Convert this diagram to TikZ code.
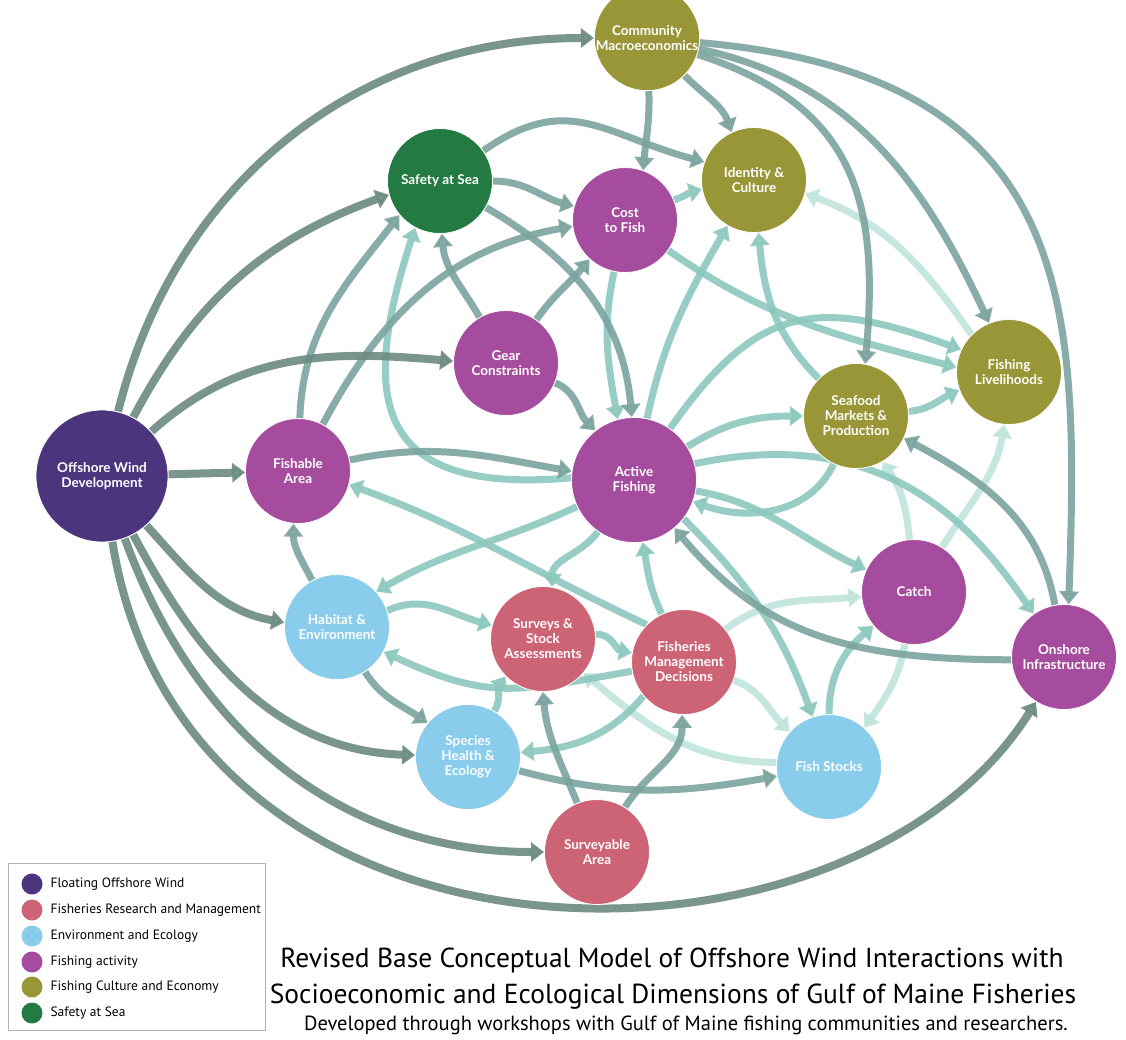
\documentclass[tikz,border=0pt]{standalone}
\usepackage{fontspec}
\setmainfont{PT Sans}
\newfontfamily\nodefont{Lato}
\usetikzlibrary{arrows.meta}
\definecolor{windpurple}{HTML}{4B357D}
\definecolor{researchpink}{HTML}{CD6475}
\definecolor{ecoblue}{HTML}{89CCEC}
\definecolor{fishmagenta}{HTML}{A64C9E}
\definecolor{cultureolive}{HTML}{999637}
\definecolor{safetygreen}{HTML}{237A43}
\definecolor{linkdark}{HTML}{6B8A82}
\definecolor{linkgrey}{HTML}{7BA39E}
\definecolor{linkteal}{HTML}{8CC8BE}
\definecolor{linklight}{HTML}{BFE4DC}
\pgfdeclarelayer{links}
\pgfsetlayers{links,main}

\begin{document}
\begin{tikzpicture}[x=1pt, y=1pt,
  topic/.style={circle, fill=#1, draw=white, line width=0.8pt, minimum size=105pt,
    inner sep=0pt, align=center, text=white,
    font=\nodefont\bfseries\fontsize{13.5}{15}\selectfont},
  link/.style={line width=7pt, opacity=0.9, -{Triangle[length=13pt,width=19pt]}},
  dk/.style={link, draw=linkdark, line width=8pt},
  gr/.style={link, draw=linkgrey},
  md/.style={link, draw=linkteal},
  lt/.style={link, draw=linklight},
  key/.style={circle, fill=#1, minimum size=21pt, inner sep=0pt},
  keytext/.style={anchor=west, font=\fontsize{13.5}{16}\selectfont}]
  \useasboundingbox (0,0) rectangle (1126,-1039);

  % topics
  \node[topic=cultureolive] (CM) at (647,-38) {Community\\Macroeconomics};
  \node[topic=cultureolive] (IC) at (754,-180) {Identity \&\\Culture};
  \node[topic=safetygreen] (SaS) at (440,-181) {Safety at Sea};
  \node[topic=fishmagenta] (CF) at (625,-220) {Cost\\to Fish};
  \node[topic=fishmagenta] (GC) at (506,-363) {Gear\\Constraints};
  \node[topic=cultureolive] (FL) at (1009,-372) {Fishing\\Livelihoods};
  \node[topic=cultureolive] (SM) at (856,-416) {Seafood\\Markets \&\\Production};
  \node[topic=windpurple, minimum size=132pt] (OWD) at (102,-476) {Offshore Wind\\Development};
  \node[topic=fishmagenta] (FA) at (298,-471) {Fishable\\Area};
  \node[topic=fishmagenta, minimum size=125pt] (AF) at (634,-480) {Active\\Fishing};
  \node[topic=fishmagenta] (CA) at (914,-592) {Catch};
  \node[topic=fishmagenta] (OI) at (1064,-657) {Onshore\\Infrastructure};
  \node[topic=ecoblue] (HE) at (337,-627) {Habitat \&\\Environment};
  \node[topic=researchpink] (SS) at (543,-639) {Surveys \&\\Stock\\Assessments};
  \node[topic=researchpink] (FMD) at (684,-662) {Fisheries\\Management\\Decisions};
  \node[topic=ecoblue] (SH) at (468,-757) {Species\\Health \&\\Ecology};
  \node[topic=ecoblue] (FS) at (829,-767) {Fish Stocks};
  \node[topic=researchpink] (SA) at (597,-852) {Surveyable\\Area};

  \begin{pgfonlayer}{links}
  % light links
  \draw[lt] (FL.135) to[out=125,in=-20] (IC.-15);
  \draw[lt] (CA) to[out=58,in=-100] (FL.-95);
  \draw[lt] (CA) to[out=95,in=-55] (SM.-60);
  \draw[lt] (CA) to[out=-100,in=55] (FS.48);
  \draw[lt] (FMD) to[out=38,in=185] (CA);
  \draw[lt] (FMD) to[out=-20,in=135] (FS.138);
  \draw[lt] (FS.175) to[out=180,in=-40] (SS.-40);

  % cost to fish, active fishing, seafood
  \draw[md] (CF) to[out=22,in=195] (IC.190);
  \draw[md] (CF) to[out=-102,in=100] (AF.105);
  \draw[md] (CF) to[out=-35,in=165] (FL.175);
  \draw[md] (AF) to[out=78,in=-120] (IC);
  \draw[md] (AF.178) to[out=185,in=-108,out distance=200pt,in distance=180pt] (SaS.-118);
  \draw[md] (AF) to[out=32,in=180] (SM);
  \draw[md] (AF) to[out=55,in=160,looseness=1.3] (FL.155);
  \draw[md] (AF.15) to[out=12,in=125,out distance=200pt,in distance=100pt] (OI.125);
  \draw[md] (AF) to[out=-10,in=155] (CA);
  \draw[md] (AF.-38) to[out=-45,in=110] (FS.108);
  \draw[md] (AF) to[out=205,in=30] (HE.42);
  \draw[md] (AF) to[out=-125,in=90] (SS.80);
  \draw[md] (SM) to[out=-115,in=-20] (AF.-20);
  \draw[md] (SM) to[out=135,in=-85] (IC);
  \draw[md] (SM) to[out=5,in=205] (FL.-160);

  % fisheries management and surveys
  \draw[md] (FMD) to[out=115,in=-80] (AF.-82);
  \draw[md] (FMD.135) to[out=155,in=-20] (FA.-15);
  \draw[md] (FMD) to[out=190,in=-25,looseness=1.2] (HE.-28);
  \draw[md] (FMD.-140) to[out=-130,in=5] (SH.5);
  \draw[md] (SS) to[out=5,in=170] (FMD.170);
  \draw[md] (HE.18) to[out=25,in=165] (SS.165);
  \draw[md] (SH) to[out=60,in=-125] (SS.-135);
  \draw[md] (FS) to[out=90,in=-140] (CA);

  % community macroeconomics
  \draw[gr] (CM) to[out=-88,in=85] (CF.70);
  \draw[gr] (CM) to[out=-45,in=110] (IC.115);
  \draw[gr] (CM) to[out=-18,in=85,looseness=1.2] (SM.80);
  \draw[gr] (CM) to[out=-12,in=115] (FL.112);
  \draw[gr] (CM) to[out=-5,in=88,out distance=380pt,in distance=300pt] (OI.85);

  % safety, gear, fishable area
  \draw[gr] (SaS) to[out=35,in=165,looseness=1.2] (IC.160);
  \draw[gr] (SaS) to[out=0,in=165] (CF.165);
  \draw[gr] (SaS) to[out=-30,in=95] (AF.92);
  \draw[gr] (GC) to[out=120,in=-85] (SaS.-88);
  \draw[gr] (GC) to[out=55,in=-130] (CF.-132);
  \draw[gr] (GC) to[out=-22,in=135] (AF.128);
  \draw[gr] (FA) to[out=88,in=-128] (SaS.-140);
  \draw[gr] (FA) to[out=62,in=190] (CF.187);
  \draw[gr] (FA) to[out=12,in=170] (AF.172);

  % habitat, species, surveyable area, onshore
  \draw[gr] (HE) to[out=118,in=-90] (FA.-95);
  \draw[gr] (HE) to[out=-58,in=145] (SH.140);
  \draw[gr] (SA) to[out=112,in=-85] (SS.-90);
  \draw[gr] (SA) to[out=58,in=-90] (FMD.-92);
  \draw[gr] (SH) to[out=-15,in=190] (FS.190);
  \draw[gr] (OI.183) to[out=180,in=-50,out distance=160pt,in distance=140pt] (AF.-50);
  \draw[gr] (OI) to[out=100,in=-28] (SM.-25);

  % offshore wind development
  \draw[dk] (OWD) to[out=76,in=180] (CM);
  \draw[dk] (OWD) to[out=62,in=200] (SaS.195);
  \draw[dk] (OWD) to[out=42,in=175] (GC.178);
  \draw[dk] (OWD) -- (FA);
  \draw[dk] (OWD) to[out=-48,in=170] (HE.175);
  \draw[dk] (OWD) to[out=-62,in=178] (SH);
  \draw[dk] (OWD) to[out=-70,in=180] (SA);
  \draw[dk] (OWD) to[out=-81,in=-122,out distance=460pt,in distance=350pt] (OI);
  \end{pgfonlayer}

  % legend
  \draw[gray!60, line width=0.8pt] (8,-863) rectangle (265,-1030);
  \node[key=windpurple] (k1) at (32,-884) {};
  \node[keytext] (t1) at (47,-884) {Floating Offshore Wind};
  \node[key=researchpink] (k2) at (32,-910) {};
  \node[keytext] (t2) at (47,-910) {Fisheries Research and Management};
  \node[key=ecoblue] (k3) at (32,-936) {};
  \node[keytext] (t3) at (47,-936) {Environment and Ecology};
  \node[key=fishmagenta] (k4) at (32,-962) {};
  \node[keytext] (t4) at (47,-962) {Fishing activity};
  \node[key=cultureolive] (k5) at (32,-987) {};
  \node[keytext] (t5) at (47,-987) {Fishing Culture and Economy};
  \node[key=safetygreen] (k6) at (32,-1013) {};
  \node[keytext] (t6) at (47,-1013) {Safety at Sea};

  % title
  \node[anchor=base, font=\fontsize{27.5}{32}\selectfont] (title1) at (672,-967)
    {Revised Base Conceptual Model of Offshore Wind Interactions with};
  \node[anchor=base, font=\fontsize{27.5}{32}\selectfont] (title2) at (673,-1003)
    {Socioeconomic and Ecological Dimensions of Gulf of Maine Fisheries};
  \node[anchor=base, font=\fontsize{20.5}{24}\selectfont] (subtitle) at (686,-1030)
    {Developed through workshops with Gulf of Maine fishing communities and researchers.};
\end{tikzpicture}
\end{document}
